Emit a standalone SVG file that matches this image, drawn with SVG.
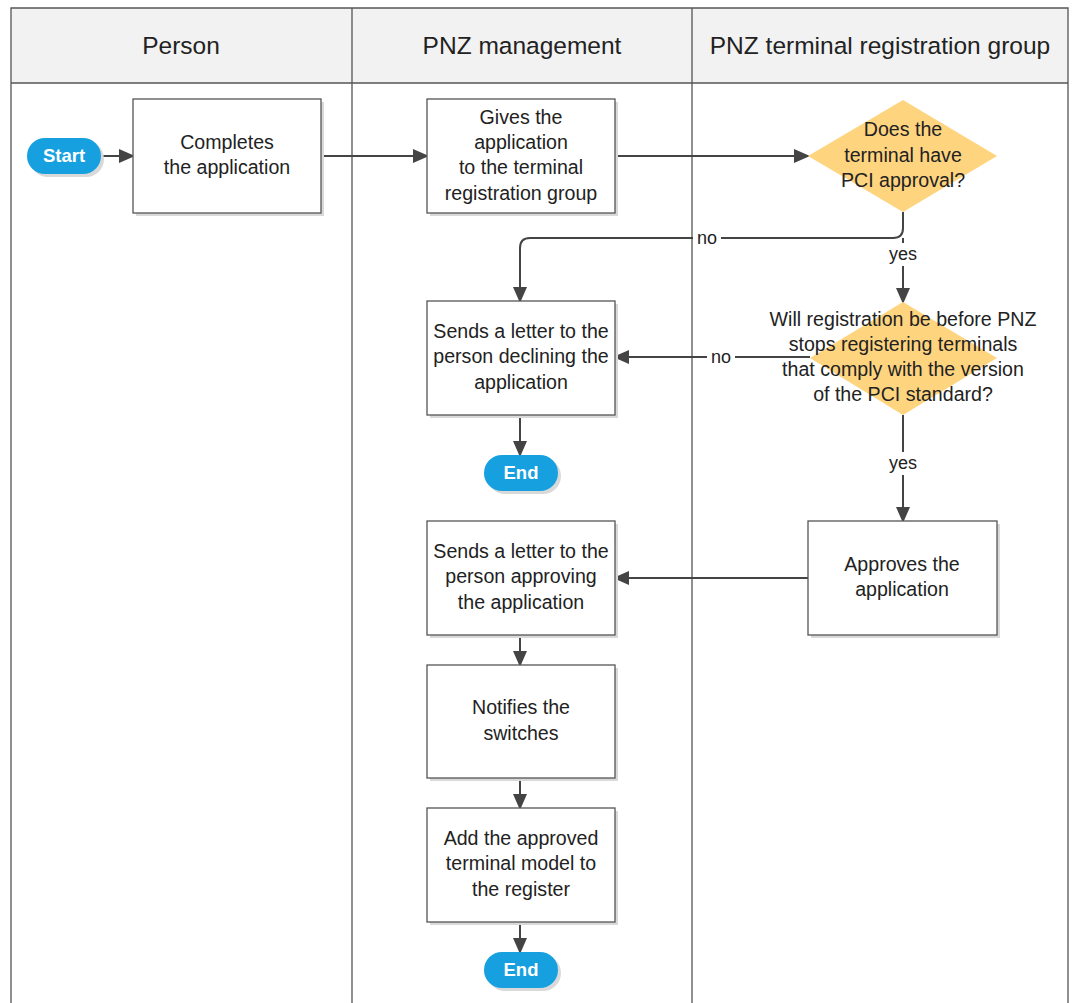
<svg xmlns="http://www.w3.org/2000/svg" width="1073" height="1003" viewBox="0 0 1073 1003">
<style>
text{font-family:"Liberation Sans",Arial,sans-serif;fill:#222;text-anchor:middle}
.t{font-size:19.6px}
.h{font-size:24.5px}
.l{font-size:18px}
.box{fill:#fff;stroke:#555;stroke-width:1.3}
.sh{fill:#d9d9d9}
.dia{fill:#ffd47f}
.pill{fill:#16a0e0}
.pt{font-size:18.5px;font-weight:bold;fill:#fff}
.c{fill:none;stroke:#444;stroke-width:2}
.lane{stroke:#555;stroke-width:1.3;fill:none}
</style>
<defs>
<marker id="a" markerWidth="16" markerHeight="14" refX="14" refY="7" orient="auto" markerUnits="userSpaceOnUse">
<path d="M0,0 L16,7 L0,14 Z" fill="#444"/>
</marker>
</defs>
<rect width="1073" height="1003" fill="#fff"/>
<g id="lanes">
<rect x="11" y="8" width="1057" height="75" fill="#f2f2f2"/>
<path class="lane" d="M11,1003 V8 H1068 V1003 M11,83 H1068 M352,8 V1003 M692,8 V1003"/>
<text class="h" x="181" y="54">Person</text>
<text class="h" x="522" y="54">PNZ management</text>
<text class="h" x="880" y="54">PNZ terminal registration group</text>
</g>
<g id="connectors">
<path class="c" d="M101,156 H133" marker-end="url(#a)"/>
<path class="c" d="M321,156 H427" marker-end="url(#a)"/>
<path class="c" d="M615,156 H808" marker-end="url(#a)"/>
<path class="c" d="M903,212 V228 Q903,238 893,238 H530 Q520,238 520,248 V301" marker-end="url(#a)"/>
<rect x="693" y="228" width="28" height="20" fill="#fff"/>
<text class="l" x="707" y="244">no</text>
<path class="c" d="M903,238 V302" marker-end="url(#a)"/>
<rect x="883" y="243" width="40" height="23" fill="#fff"/>
<text class="l" x="903" y="260">yes</text>
<path class="c" d="M810,357 H615" marker-end="url(#a)"/>
<rect x="707" y="347" width="28" height="20" fill="#fff"/>
<text class="l" x="721" y="363">no</text>
<path class="c" d="M520,415 V455" marker-end="url(#a)"/>
<path class="c" d="M903,415 V521" marker-end="url(#a)"/>
<rect x="883" y="452" width="40" height="23" fill="#fff"/>
<text class="l" x="903" y="469">yes</text>
<path class="c" d="M808,578 H615" marker-end="url(#a)"/>
<path class="c" d="M520,635 V665" marker-end="url(#a)"/>
<path class="c" d="M520,778 V808" marker-end="url(#a)"/>
<path class="c" d="M520,922 V952" marker-end="url(#a)"/>
</g>
<g id="start">
<rect x="30" y="141" width="74" height="36" rx="18" class="sh"/>
<rect x="27" y="138" width="74" height="36" rx="18" class="pill"/>
<text class="pt" x="64" y="162">Start</text>
</g>
<g id="complete">
<rect x="136" y="102" width="188" height="114" class="sh"/>
<rect x="133" y="99" width="188" height="114" class="box"/>
<text class="t" x="227" y="149">Completes</text>
<text class="t" x="227" y="174">the application</text>
</g>
<g id="gives">
<rect x="430" y="102" width="188" height="114" class="sh"/>
<rect x="427" y="99" width="188" height="114" class="box"/>
<text class="t" x="521" y="124">Gives the</text>
<text class="t" x="521" y="149">application</text>
<text class="t" x="521" y="174">to the terminal</text>
<text class="t" x="521" y="200">registration group</text>
</g>
<g id="pci">
<path class="dia" d="M903,100 L997,156 L903,212 L808,156 Z"/>
<text class="t" x="903" y="136">Does the</text>
<text class="t" x="903" y="162">terminal have</text>
<text class="t" x="903" y="187">PCI approval?</text>
</g>
<g id="before">
<path class="dia" d="M903,302 L997,358 L903,415 L810,358 Z"/>
<text class="t" x="903" y="326">Will registration be before PNZ</text>
<text class="t" x="903" y="351">stops registering terminals</text>
<text class="t" x="903" y="376">that comply with the version</text>
<text class="t" x="903" y="401">of the PCI standard?</text>
</g>
<g id="decline">
<rect x="430" y="304" width="188" height="114" class="sh"/>
<rect x="427" y="301" width="188" height="114" class="box"/>
<text class="t" x="521" y="338">Sends a letter to the</text>
<text class="t" x="521" y="363">person declining the</text>
<text class="t" x="521" y="389">application</text>
</g>
<g id="end1">
<rect x="487" y="458" width="74" height="36" rx="18" class="sh"/>
<rect x="484" y="455" width="74" height="36" rx="18" class="pill"/>
<text class="pt" x="521" y="479">End</text>
</g>
<g id="approves">
<rect x="811" y="524" width="189" height="114" class="sh"/>
<rect x="808" y="521" width="189" height="114" class="box"/>
<text class="t" x="902" y="571">Approves the</text>
<text class="t" x="902" y="596">application</text>
</g>
<g id="approving">
<rect x="430" y="524" width="188" height="114" class="sh"/>
<rect x="427" y="521" width="188" height="114" class="box"/>
<text class="t" x="521" y="558">Sends a letter to the</text>
<text class="t" x="521" y="583">person approving</text>
<text class="t" x="521" y="609">the application</text>
</g>
<g id="notifies">
<rect x="430" y="668" width="188" height="113" class="sh"/>
<rect x="427" y="665" width="188" height="113" class="box"/>
<text class="t" x="521" y="714">Notifies the</text>
<text class="t" x="521" y="740">switches</text>
</g>
<g id="add">
<rect x="430" y="811" width="188" height="114" class="sh"/>
<rect x="427" y="808" width="188" height="114" class="box"/>
<text class="t" x="521" y="845">Add the approved</text>
<text class="t" x="521" y="870">terminal model to</text>
<text class="t" x="521" y="896">the register</text>
</g>
<g id="end2">
<rect x="487" y="955" width="74" height="36" rx="18" class="sh"/>
<rect x="484" y="952" width="74" height="36" rx="18" class="pill"/>
<text class="pt" x="521" y="976">End</text>
</g>
</svg>
